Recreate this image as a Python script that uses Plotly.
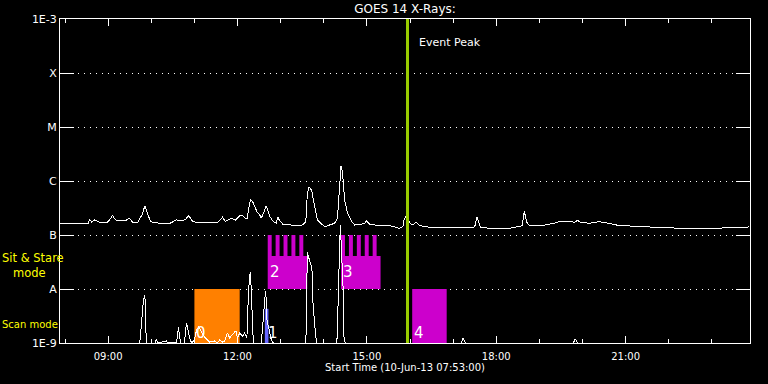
import math
import plotly.graph_objects as go

DAY = "2013-06-10 "
X_START, X_END = "07:53", "23:53"

# GOES long channel (1-8 A), time HH:MM and flux W/m^2
long_t = ["07:53","08:06","08:20","08:32","08:34","08:37","08:41","08:48","08:59","09:04",
          "09:06","09:09","09:13","09:23","09:30","09:34","09:41","09:47","09:51","09:55",
          "09:59","10:12","10:26","10:35","10:44","10:48","10:52","10:58","11:07","11:21",
          "11:32","11:39","11:43","11:52","11:57","12:03","12:07","12:11","12:14","12:15",
          "12:18","12:22","12:27","12:31","12:33","12:36","12:40","12:42","12:45","12:50",
          "12:54","12:56","12:58","13:03","13:12","13:22","13:30","13:35","13:37","13:39",
          "13:43","13:46","13:49","13:51","13:57","14:02","14:08","14:15","14:19","14:22",
          "14:24","14:26","14:29","14:33","14:39","14:43","14:50","14:57","14:59","15:04",
          "15:18","15:32","15:38","15:45","15:50","15:52","15:55","15:59","16:03","16:09",
          "16:13","16:27","16:41","16:55","17:09","17:23","17:30","17:33","17:38","17:51",
          "18:04","18:18","18:25","18:32","18:36","18:39","18:42","18:46","19:07","19:21",
          "19:28","19:42","19:49","19:53","19:58","20:10","20:23","20:37","20:51","21:05",
          "21:19","21:33","21:47","22:01","22:15","22:29","22:42","22:56","23:10","23:24",
          "23:38","23:52"]
long_f = [1.65e-7,1.63e-7,1.60e-7,1.63e-7,1.95e-7,1.74e-7,1.90e-7,1.72e-7,1.72e-7,2.07e-7,
          2.35e-7,1.98e-7,1.82e-7,1.82e-7,2.04e-7,1.72e-7,1.70e-7,2.35e-7,3.44e-7,2.45e-7,
          1.76e-7,1.65e-7,1.65e-7,1.90e-7,1.82e-7,1.98e-7,2.28e-7,1.76e-7,1.70e-7,1.70e-7,
          1.70e-7,2.13e-7,1.78e-7,2.04e-7,1.90e-7,2.25e-7,2.28e-7,2.04e-7,2.04e-7,2.90e-7,
          4.58e-7,3.91e-7,2.70e-7,2.35e-7,2.04e-7,2.52e-7,3.49e-7,2.90e-7,2.18e-7,1.76e-7,
          1.65e-7,2.18e-7,1.90e-7,1.58e-7,1.53e-7,1.50e-7,1.53e-7,1.74e-7,5.51e-7,7.84e-7,
          6.81e-7,4.45e-7,2.90e-7,1.90e-7,1.58e-7,1.42e-7,1.53e-7,1.65e-7,2.04e-7,6.81e-7,
          1.90e-6,1.49e-6,4.45e-7,2.52e-7,1.76e-7,1.53e-7,1.56e-7,1.65e-7,1.84e-7,1.58e-7,
          1.49e-7,1.49e-7,1.42e-7,1.33e-7,1.42e-7,1.98e-7,2.25e-7,1.74e-7,1.53e-7,1.72e-7,
          1.49e-7,1.39e-7,1.35e-7,1.35e-7,1.33e-7,1.35e-7,1.41e-7,2.18e-7,1.39e-7,1.33e-7,
          1.33e-7,1.33e-7,1.38e-7,1.42e-7,1.49e-7,2.78e-7,1.76e-7,1.49e-7,1.53e-7,1.65e-7,
          1.78e-7,1.78e-7,1.72e-7,1.86e-7,1.70e-7,1.65e-7,1.76e-7,1.65e-7,1.49e-7,1.47e-7,
          1.42e-7,1.41e-7,1.37e-7,1.35e-7,1.33e-7,1.32e-7,1.31e-7,1.32e-7,1.35e-7,1.38e-7,
          1.41e-7,1.41e-7]

# GOES short channel (0.5-4 A)
short_t = ["07:53","09:44","09:48","09:49","09:51","09:52","09:53","10:05","10:07","10:09",
           "10:21","10:23","10:28","10:32","10:35","10:38","10:39","10:41","10:46","10:49",
           "10:51","10:53","10:56","11:00","11:03","11:06","11:10","11:14","11:18","11:21",
           "11:28","11:32","11:35","11:39","11:42","11:46","11:49","11:52","11:56","11:58",
           "12:00","12:03","12:07","12:10","12:13","12:14","12:15","12:17","12:18","12:19",
           "12:21","12:22","12:33","12:35","12:37","12:39","12:40","12:41","12:44","12:47",
           "12:50","13:35","13:36","13:37","13:40","13:43","13:44","13:45","13:48","13:50",
           "14:17","14:19","14:20","14:22","14:23","14:24","14:26","14:27","14:28","14:30",
           "17:11","17:14","17:17","19:47","19:50","19:53","23:52"]
short_f = [1.0e-9,1.0e-9,4.08e-9,6.26e-9,7.74e-9,4.08e-9,1.0e-9,1.0e-9,1.19e-9,1.0e-9,
           1.09e-9,1.0e-9,1.04e-9,1.04e-9,1.0e-9,2.00e-9,1.41e-9,1.0e-9,1.0e-9,2.38e-9,
           1.74e-9,1.29e-9,1.0e-9,1.14e-9,1.74e-9,2.00e-9,1.60e-9,1.29e-9,1.14e-9,1.04e-9,
           1.09e-9,1.0e-9,1.14e-9,1.04e-9,1.09e-9,1.53e-9,1.24e-9,1.41e-9,1.60e-9,1.62e-9,
           1.24e-9,1.53e-9,1.35e-9,1.53e-9,1.24e-9,2.67e-9,7.74e-9,1.82e-8,2.06e-8,9.58e-9,
           1.14e-9,1.0e-9,1.0e-9,2.15e-9,4.08e-9,9.30e-9,6.26e-9,2.67e-9,1.74e-9,1.14e-9,
           1.0e-9,1.0e-9,3.07e-9,4.91e-8,3.44e-8,2.59e-8,1.98e-8,5.50e-9,1.74e-9,1.0e-9,
           1.0e-9,1.31e-9,6.81e-9,8.08e-8,1.53e-7,8.08e-8,2.59e-8,9.58e-9,1.31e-9,1.0e-9,
           1.0e-9,1.24e-9,1.0e-9,1.0e-9,1.19e-9,1.0e-9,1.0e-9]

# Observation blocks: (start, end, bottom flux, top flux, colour, label)
blocks = [("11:00","12:03",1e-9,1e-8,"#ff8000","0"),
          ("12:38","12:43",1e-9,4.3e-9,"#6868ff","1"),
          ("12:42","13:37",1e-8,4.1e-8,"#cc00cc","2"),
          ("14:24","15:19",1e-8,4.1e-8,"#cc00cc","3"),
          ("16:03","16:51",1e-9,1e-8,"#cc00cc","4")]
# Sit & Stare raster teeth (start, end) reaching to B level
teeth_top = 1e-7
teeth_bottom = 4.1e-8
teeth = [("12:42","12:47:30"),("12:53","12:58:30"),("13:04","13:09:30"),("13:15","13:20:30"),("13:26","13:31:30"),
         ("14:24","14:29:30"),("14:35","14:40:30"),("14:46","14:51:30"),("14:57","15:02:30"),("15:08","15:13:30")]
label_y = {"0": 1.5e-9, "1": 1.5e-9, "2": 2.1e-8, "3": 2.1e-8, "4": 1.5e-9}

event_peak = "15:56:30"

tick_vals = [1e-9, 1e-8, 1e-7, 1e-6, 1e-5, 1e-4, 1e-3]
tick_text = ["1E-9", "A", "B", "C", "M", "X", "1E-3"]

def T(s):
    return DAY + s

FONT = "DejaVu Sans"
fig = go.Figure()

for (t0, t1, y0, y1, col, lab) in blocks:
    fig.add_trace(go.Scatter(x=[T(t0), T(t1), T(t1), T(t0), T(t0)], y=[y0, y0, y1, y1, y0],
                             mode="lines", fill="toself", fillcolor=col,
                             line=dict(width=0, color=col), hoverinfo="skip"))
tx, ty = [], []
for (t0, t1) in teeth:
    tx += [T(t0), T(t1), T(t1), T(t0), T(t0), None]
    ty += [teeth_bottom, teeth_bottom, teeth_top, teeth_top, teeth_bottom, None]
fig.add_trace(go.Scatter(x=tx, y=ty, mode="lines", fill="toself", fillcolor="#cc00cc",
                         line=dict(width=0, color="#cc00cc"), hoverinfo="skip"))

fig.add_trace(go.Scatter(x=[T(t) for t in long_t], y=long_f, mode="lines",
                         line=dict(color="white", width=1)))
fig.add_trace(go.Scatter(x=[T(t) for t in short_t], y=short_f, mode="lines",
                         line=dict(color="white", width=1)))
fig.add_trace(go.Scatter(x=[T(event_peak), T(event_peak)], y=[tick_vals[0], tick_vals[-1]],
                         mode="lines", line=dict(color="#99cc00", width=2.5)))

ann = []
for (t0, t1, y0, y1, col, lab) in blocks:
    ann.append(dict(x=T(t0), y=math.log10(label_y[lab]), xref="x", yref="y", text=lab,
                    showarrow=False, xanchor="left", yanchor="middle", xshift=0 if lab != "1" else 1,
                    font=dict(family=FONT, size=15, color="white")))
ann += [
    dict(x=T("16:10"), y=0.926, xref="x", yref="paper", text="Event Peak", showarrow=False,
         xanchor="left", yanchor="middle", font=dict(family=FONT, size=11, color="white")),
    dict(x=0, y=0.2407, xref="paper", yref="paper",
         text="Sit & Stare<br>&nbsp;&nbsp;&nbsp;mode", align="left", showarrow=False,
         xanchor="left", yanchor="middle", xshift=-60,
         font=dict(family=FONT, size=11.5, color="#ffff00")),
    dict(x=0, y=0.0586, xref="paper", yref="paper", text="Scan mode", showarrow=False,
         xanchor="left", yanchor="middle", xshift=-60, font=dict(family=FONT, size=10, color="#ffff00")),
    dict(x=0.5, y=-0.077, xref="paper", yref="paper", text="Start Time (10-Jun-13 07:53:00)",
         showarrow=False, xanchor="center", yanchor="middle", font=dict(family=FONT, size=10, color="white")),
]

fig.update_layout(
    width=768, height=384, autosize=False,
    margin=dict(l=60, r=18, t=19, b=41),
    paper_bgcolor="black", plot_bgcolor="black",
    showlegend=False,
    title=dict(text="GOES 14 X-Rays:", x=0.5, xref="paper", y=1 - 9 / 384, yref="container",
               xanchor="center", yanchor="middle", font=dict(family=FONT, size=12, color="white")),
    annotations=ann,
    xaxis=dict(type="date", range=[T(X_START), T(X_END)], tickformat="%H:%M",
               tick0=T("00:00"), dtick=3 * 3600000, ticks="inside", ticklen=7, tickcolor="white",
               tickwidth=1, showline=True, linecolor="white", linewidth=1, mirror="ticks",
               showgrid=False, zeroline=False, ticklabelstandoff=4,
               minor=dict(dtick=3600000, ticks="inside", ticklen=4, tickcolor="white", showgrid=False),
               tickfont=dict(family=FONT, size=10, color="white")),
    yaxis=dict(type="log", range=[-9, -3], tickvals=tick_vals, ticktext=tick_text,
               ticks="inside", ticklen=14, tickcolor="white", tickwidth=1,
               showline=True, linecolor="white", linewidth=1, mirror="ticks",
               showgrid=True, gridcolor="white", gridwidth=1, griddash="1px,5px", zeroline=False,
               tickfont=dict(family=FONT, size=11, color="white")),
)

post = ("document.body.style.margin='0px';document.body.style.overflow='hidden';"
        "document.querySelectorAll('.scatterlayer .js-line').forEach(function(p){p.style.shapeRendering='crispEdges';});")
fig.write_html("out.html", config={"displayModeBar": False}, post_script=post)
